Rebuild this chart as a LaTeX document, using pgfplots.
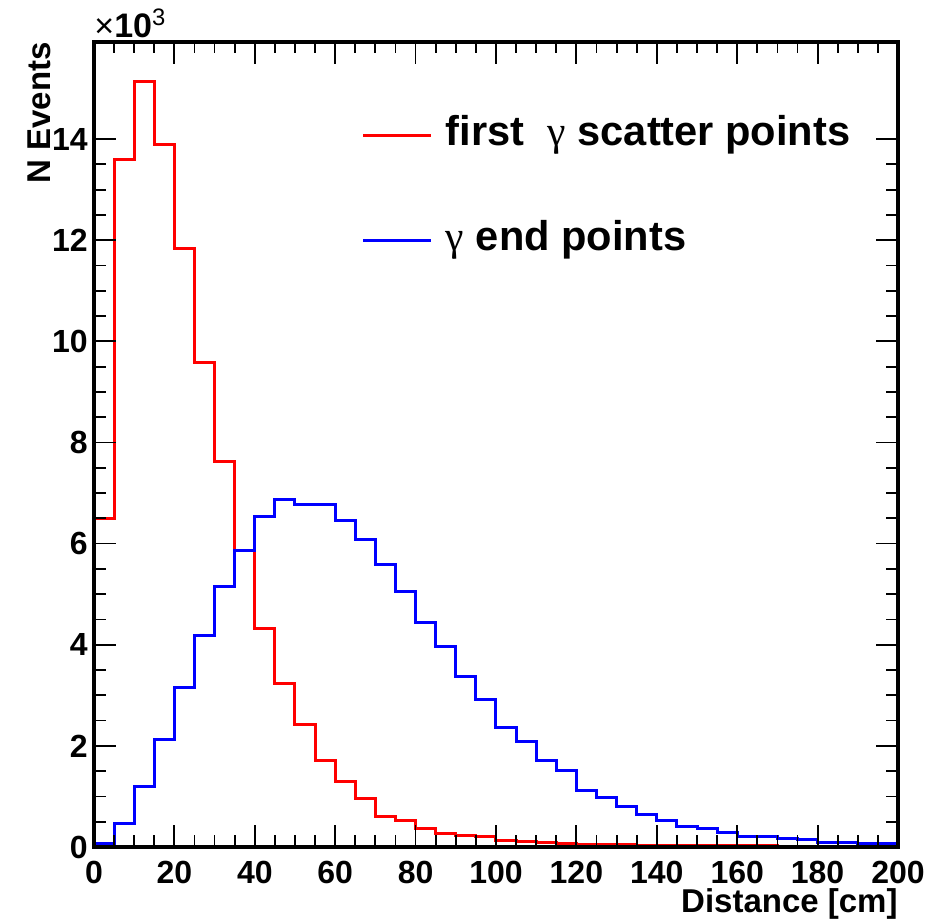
\documentclass[border=0pt]{standalone}
\usepackage{pgfplots}
\pgfplotsset{compat=1.18}
\usepackage{pgfplotstable}
\usepackage{fontspec}
\setmainfont{Liberation Sans}
\newfontfamily\greekfont{Liberation Serif}

% Histogram contents in thousands of events, 5 cm bins (left edges)
\pgfplotstableread{
x    first   endp
0    0       0
0    6.50    0.07
5    13.59   0.47
10   15.14   1.20
15   13.89   2.12
20   11.84   3.15
25   9.59    4.18
30   7.63    5.15
35   5.87    5.86
40   4.33    6.53
45   3.23    6.87
50   2.42    6.78
55   1.72    6.78
60   1.29    6.45
65   0.95    6.08
70   0.61    5.59
75   0.53    5.06
80   0.37    4.43
85   0.27    3.96
90   0.22    3.37
95   0.20    2.91
100  0.12    2.37
105  0.10    2.08
110  0.08    1.71
115  0.06    1.52
120  0.05    1.12
125  0.045   0.98
130  0.04    0.81
135  0.035   0.65
140  0.03    0.52
145  0.03    0.40
150  0.025   0.36
155  0.02    0.29
160  0.02    0.20
165  0.02    0.20
170  0.015   0.16
175  0.015   0.14
180  0.015   0.09
185  0.01    0.09
190  0.01    0.06
195  0.01    0.06
200  0.01    0.06
}\histdata

\newcommand{\tickfont}{\fontsize{16}{16}\selectfont\bfseries}
\newcommand{\titlefont}{\fontsize{16.5}{16.5}\selectfont\bfseries}

\begin{document}
\begin{tikzpicture}
\useasboundingbox (-47pt,-36pt) rectangle (425pt,423.5pt);
\begin{axis}[
  at={(0,0)}, anchor=south west,
  scale only axis, width=402pt, height=402.5pt,
  xmin=0, xmax=200, ymin=0, ymax=15.92,
  xtick={0,20,...,200}, minor x tick num=3,
  ytick={0,2,...,14}, minor y tick num=3,
  tick align=inside,
  major tick length=11pt, minor tick length=5.75pt,
  every tick/.style={black, line width=0.9pt},
  axis line style={line width=1.6pt},
  /pgf/number format/assume math mode=true,
  xticklabel style={font=\tickfont, inner sep=0pt, yshift=-7pt},
  yticklabel style={font=\tickfont, inner sep=0pt, xshift=-3pt},
  xlabel={Distance [cm]},
  xlabel style={at={(axis description cs:1,0)}, anchor=base east,
    yshift=-33pt, font=\titlefont, inner sep=0pt},
  ylabel={N Events},
  ylabel style={at={(axis description cs:-0.0547,1)}, anchor=base east,
    font=\titlefont, inner sep=0pt},
  legend cell align=left,
  legend image code/.code={\draw[#1, line width=1.5pt] (0pt,0pt) -- (34pt,0pt);},
  legend style={at={(axis description cs:0.3333,0.9084)}, anchor=north west,
    draw=none, fill=none, inner sep=0pt, outer sep=0pt,
    font=\fontsize{20.8}{20.8}\selectfont\bfseries,
    nodes={inner sep=0pt, text height=15pt, text depth=5pt},
    column sep=6.5pt, row sep=32.5pt},
  axis on top,
  clip mode=individual,
]
\addplot[const plot, red, line width=1.5pt] table[x=x, y=first] {\histdata};
\addlegendentry{first \ {\greekfont\mdseries γ} scatter points}
\addplot[const plot, blue, line width=1.5pt] table[x=x, y=endp] {\histdata};
\addlegendentry{{\greekfont\mdseries γ} end points}
\node[anchor=base west, inner sep=0pt, font=\fontsize{17}{17}\selectfont]
  at (rel axis cs:0,1) [yshift=2pt] {×\textbf{10}\textsuperscript{3}};
\end{axis}
\end{tikzpicture}
\end{document}
